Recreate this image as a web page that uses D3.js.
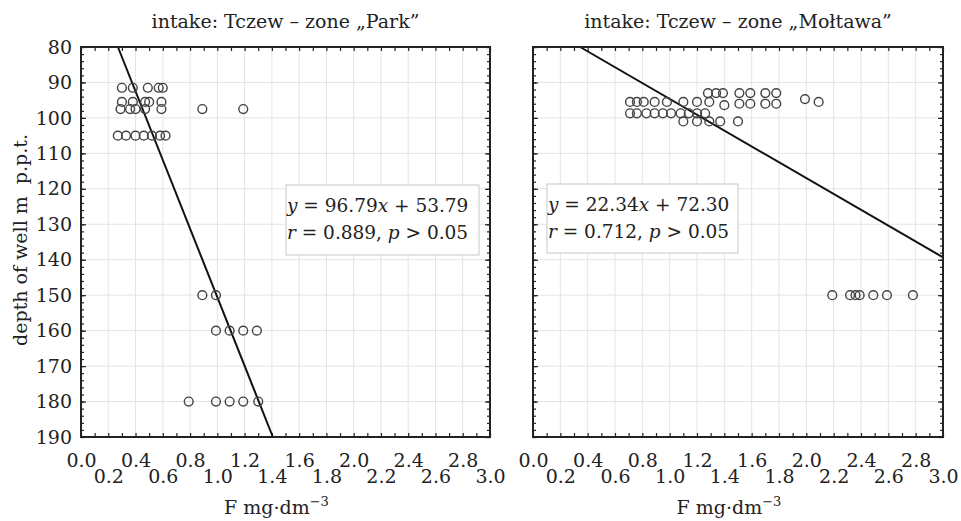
<!DOCTYPE html>
<html lang="en">
<head>
<meta charset="UTF-8">
<title>F vs depth of well</title>
<script src="https://cdn.jsdelivr.net/npm/d3@7/dist/d3.min.js"></script>
<style>
  body { margin: 0; background: #fff; }
  text { font-family: "DejaVu Serif", serif; fill: #222; }
</style>
</head>
<body>
<svg width="961" height="521"></svg>
<script>
// tick values
var xTicks = [0.0, 0.2, 0.4, 0.6, 0.8, 1.0, 1.2, 1.4, 1.6, 1.8, 2.0, 2.2, 2.4, 2.6, 2.8, 3.0];
var yTicks = [80, 90, 100, 110, 120, 130, 140, 150, 160, 170, 180, 190];

// zone "Park"
var parkF = [0.30, 0.38, 0.49, 0.57, 0.60,
             0.30, 0.38, 0.47, 0.50, 0.59,
             0.29, 0.36, 0.40, 0.47, 0.59, 0.89, 1.19,
             0.27, 0.33, 0.40, 0.46, 0.52, 0.58, 0.62,
             0.89, 0.99,
             0.99, 1.09, 1.19, 1.29,
             0.79, 0.99, 1.09, 1.19, 1.30];
var parkDepth = [91.5, 91.5, 91.5, 91.5, 91.5,
                 95.5, 95.5, 95.5, 95.5, 95.5,
                 97.5, 97.5, 97.5, 97.5, 97.5, 97.5, 97.5,
                 105, 105, 105, 105, 105, 105, 105,
                 150, 150,
                 160, 160, 160, 160,
                 180, 180, 180, 180, 180];

// zone "Mołtawa"
var moltF = [1.28, 1.34, 1.39, 1.51, 1.59, 1.70, 1.78,
             0.71, 0.76, 0.81, 0.89, 0.98, 1.10, 1.20, 1.29, 1.40, 1.51, 1.59, 1.70, 1.78,
             0.71, 0.76, 0.83, 0.89, 0.95, 1.01, 1.08, 1.14, 1.20, 1.26,
             1.10, 1.20, 1.29, 1.37, 1.50,
             1.99, 2.09,
             2.19, 2.32, 2.36, 2.39, 2.49, 2.59, 2.78];
var moltDepth = [93, 93, 93, 93, 93, 93, 93,
                 95.5, 95.5, 95.5, 95.5, 95.5, 95.5, 95.5, 95.5, 96.4, 96, 96, 96, 96,
                 98.7, 98.7, 98.7, 98.7, 98.7, 98.7, 98.7, 98.7, 98.7, 98.7,
                 101, 101, 101, 101, 101,
                 94.7, 95.5,
                 150, 150, 150, 150, 150, 150, 150];

var panels = [
  { title: "intake: Tczew \u2013 zone \u201EPark\u201D", f: parkF, d: parkDepth,
    slope: 96.79, icpt: 53.79, eq: ["96.79", "53.79"], r: "0.889",
    x0: 81, x1: 490, box: [286, 185, 193, 70], yLabels: true },
  { title: "intake: Tczew \u2013 zone \u201EMo\u0142tawa\u201D", f: moltF, d: moltDepth,
    slope: 22.34, icpt: 72.30, eq: ["22.34", "72.30"], r: "0.712",
    x0: 533, x1: 943, box: [547, 184, 191, 69], yLabels: false }
];

var svg = d3.select("svg");
var yTop = 47, yBot = 437;

var y = d3.scaleLinear().domain([80, 190]).range([yTop, yBot]);

var xMinor = d3.range(0, 31).map(function(i) { return i / 10; });
var yMinor = d3.range(80, 191, 2);

panels.forEach(function(p) {
  var x = d3.scaleLinear().domain([0, 3]).range([p.x0, p.x1]);
  var g = svg.append("g");

  // grid
  g.selectAll(".gx").data(xTicks).enter().append("line")
    .attr("x1", function(d) { return x(d); }).attr("x2", function(d) { return x(d); })
    .attr("y1", yTop).attr("y2", yBot)
    .attr("stroke", "#e4e4e4").attr("stroke-width", 1);
  g.selectAll(".gy").data(yTicks).enter().append("line")
    .attr("x1", p.x0).attr("x2", p.x1)
    .attr("y1", function(d) { return y(d); }).attr("y2", function(d) { return y(d); })
    .attr("stroke", "#e4e4e4").attr("stroke-width", 1);

  // inward ticks on all four sides
  function ticks(sel) {
    sel.select(".domain").remove();
    sel.selectAll("line").attr("stroke", "#222").attr("stroke-width", 1.2);
  }
  g.append("g").attr("transform", "translate(0," + yBot + ")")
    .call(d3.axisBottom(x).tickValues(xMinor).tickSize(-4).tickFormat("")).call(ticks);
  g.append("g").attr("transform", "translate(0," + yTop + ")")
    .call(d3.axisTop(x).tickValues(xMinor).tickSize(-4).tickFormat("")).call(ticks);
  g.append("g").attr("transform", "translate(" + p.x0 + ",0)")
    .call(d3.axisLeft(y).tickValues(yMinor).tickSize(-3).tickFormat("")).call(ticks);
  g.append("g").attr("transform", "translate(" + p.x1 + ",0)")
    .call(d3.axisRight(y).tickValues(yMinor).tickSize(-3).tickFormat("")).call(ticks);
  g.append("g").attr("transform", "translate(" + p.x0 + ",0)")
    .call(d3.axisLeft(y).tickValues(yTicks).tickSize(-5).tickFormat("")).call(ticks);
  g.append("g").attr("transform", "translate(" + p.x1 + ",0)")
    .call(d3.axisRight(y).tickValues(yTicks).tickSize(-5).tickFormat("")).call(ticks);

  // x tick labels, two staggered rows
  var xl = g.append("g").attr("transform", "translate(0," + yBot + ")")
    .call(d3.axisBottom(x).tickValues(xTicks).tickSize(0).tickFormat(d3.format(".1f")));
  xl.select(".domain").remove();
  xl.selectAll("text")
    .attr("font-family", "DejaVu Serif").attr("font-size", 19).attr("fill", "#222")
    .attr("dy", null)
    .attr("y", function(d, i) { return i % 2 ? 46 : 30; });

  if (p.yLabels) {
    var yl = g.append("g").attr("transform", "translate(" + p.x0 + ",0)")
      .call(d3.axisLeft(y).tickValues(yTicks).tickSize(0).tickPadding(9));
    yl.select(".domain").remove();
    yl.selectAll("text")
      .attr("font-family", "DejaVu Serif").attr("font-size", 19).attr("fill", "#222");
  }

  // annotation box
  g.append("rect")
    .attr("x", p.box[0]).attr("y", p.box[1]).attr("width", p.box[2]).attr("height", p.box[3])
    .attr("fill", "#fff").attr("stroke", "#c8c8c8").attr("stroke-width", 1);
  var t1 = g.append("text").attr("x", p.box[0] + 1).attr("y", p.box[1] + 27).attr("font-size", 18.5);
  t1.append("tspan").attr("font-style", "italic").text("y");
  t1.append("tspan").text(" = " + p.eq[0]);
  t1.append("tspan").attr("font-style", "italic").text("x");
  t1.append("tspan").text(" + " + p.eq[1]);
  var t2 = g.append("text").attr("x", p.box[0] + 1).attr("y", p.box[1] + 54).attr("font-size", 18.5);
  t2.append("tspan").attr("font-style", "italic").text("r");
  t2.append("tspan").text(" = " + p.r + ", ");
  t2.append("tspan").attr("font-style", "italic").text("p");
  t2.append("tspan").text(" > 0.05");

  // regression line, clipped to the plot
  var xa = Math.max(0, (80 - p.icpt) / p.slope);
  var xb = Math.min(3, (190 - p.icpt) / p.slope);
  g.append("line")
    .attr("x1", x(xa)).attr("y1", y(p.slope * xa + p.icpt))
    .attr("x2", x(xb)).attr("y2", y(p.slope * xb + p.icpt))
    .attr("stroke", "#111").attr("stroke-width", 2);

  // points
  g.selectAll(".pt").data(p.f).enter().append("circle")
    .attr("cx", function(d) { return x(d); })
    .attr("cy", function(d, i) { return y(p.d[i]); })
    .attr("r", 4.4)
    .attr("fill", "none").attr("stroke", "#444").attr("stroke-width", 1.4);

  // frame
  g.append("rect")
    .attr("x", p.x0).attr("y", yTop).attr("width", p.x1 - p.x0).attr("height", yBot - yTop)
    .attr("fill", "none").attr("stroke", "#222").attr("stroke-width", 2);

  // title
  g.append("text").attr("x", (p.x0 + p.x1) / 2).attr("y", 28)
    .attr("text-anchor", "middle").attr("font-size", 19).text(p.title);

  // x axis label
  var lab = g.append("text").attr("x", (p.x0 + p.x1) / 2 - 9).attr("y", 514)
    .attr("text-anchor", "middle").attr("font-size", 19);
  lab.append("tspan").text("F mg\u00B7dm");
  lab.append("tspan").attr("font-size", 13).attr("dy", -8).text("\u22123");
});

svg.append("text")
  .attr("transform", "translate(27,240) rotate(-90)")
  .attr("text-anchor", "middle").attr("font-size", 19)
  .text("depth of well m\u00A0\u00A0p.p.t.");
</script>
</body>
</html>
